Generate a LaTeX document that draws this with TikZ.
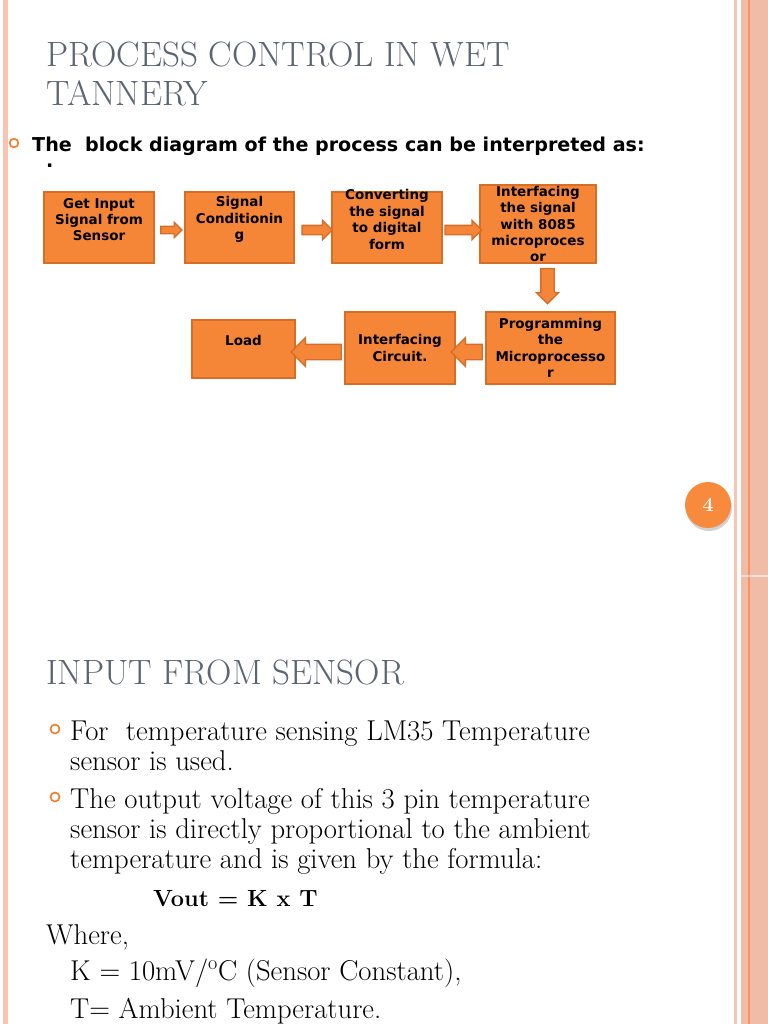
\documentclass[tikz,border=0pt]{standalone}
\usepackage{fontspec}
\newfontfamily\boxfont{DejaVu Sans}
\usepackage{tikz}
\usetikzlibrary{shapes.arrows, shadows}

\definecolor{boxfill}{RGB}{245,134,56}
\definecolor{boxline}{RGB}{214,110,40}
\definecolor{titlegray}{RGB}{91,100,114}
\definecolor{stripe}{RGB}{251,196,178}
\definecolor{band}{RGB}{240,188,168}
\definecolor{bandline}{RGB}{244,148,98}
\definecolor{bulletorange}{RGB}{240,128,48}
\definecolor{pagecircle}{RGB}{247,138,60}

\tikzset{
	box/.style={draw=boxline, fill=boxfill, line width=0.045cm, inner sep=0pt},
	boxtext/.style={font=\boxfont\bfseries\fontsize{11.5}{14}\selectfont, align=center, inner sep=0pt},
	fatarrow/.style={single arrow, draw=boxline, fill=boxfill, line width=0.04cm, inner xsep=0pt,
		single arrow head indent=0pt, sloped, allow upside down},
	slidetitle/.style={font=\fontsize{30}{36}\selectfont, text=titlegray, anchor=base west, inner sep=0pt},
	bodytext/.style={font=\fontsize{24.5}{25.5}\selectfont, anchor=base west, align=left, inner sep=0pt},
	ring/.style={circle, draw=bulletorange, line width=0.05cm, inner sep=0pt, minimum size=#1},
}

\begin{document}
\begin{tikzpicture}[x=0.03cm, y=-0.03cm]
	% Rahmen
	\useasboundingbox (0,0) rectangle (768,1024);
	\fill[white] (0,0) rectangle (768,1024);
	\fill[stripe] (3,0) rectangle (8,1024);
	\fill[stripe] (734,0) rectangle (737,1024);
	\fill[band] (741,0) rectangle (768,1024);
	\fill[bandline] (748,0) rectangle (750,1024);
	\draw[white, opacity=0.5, line width=0.06cm] (741,576) -- (768,576);
	
	% Folie 1
	\node[slidetitle] (title1) at (46,66) {PROCESS CONTROL IN WET};
	\node[slidetitle] (title2) at (46,105) {TANNERY};
	\node[ring=0.26cm] (r0) at (14,143) {};
	\node[font=\boxfont\bfseries\fontsize{16.3}{19}\selectfont, anchor=base west, inner sep=0pt] (intro) at (32,151)
		{The\ \ block diagram of the process can be interpreted as:};
	\node[font=\boxfont\bfseries\fontsize{16.3}{19}\selectfont, anchor=base west, inner sep=0pt,
		text height=1.5pt, text depth=0pt] (dot) at (46,167) {.};
	
	% Bloecke
	\node[box, minimum width=3.3cm, minimum height=2.13cm] (b1) at (99,227.5) {};
	\node[box, minimum width=3.27cm, minimum height=2.13cm] (b2) at (239.5,227.5) {};
	\node[box, minimum width=3.3cm, minimum height=2.13cm] (b3) at (387,227.5) {};
	\node[box, minimum width=3.48cm, minimum height=2.34cm] (b4) at (538,224) {};
	\node[box, minimum width=3.87cm, minimum height=2.16cm] (b5) at (550.5,348) {};
	\node[box, minimum width=3.3cm, minimum height=2.16cm] (b6) at (400,348) {};
	\node[box, minimum width=3.09cm, minimum height=1.74cm] (b7) at (243.5,349) {};
	
	\node[boxtext] (t1) at ([yshift=0.24cm]b1.center) {Get Input\\Signal from\\Sensor};
	\node[boxtext] (t2) at ([yshift=0.24cm]b2.center) {Signal\\Conditionin\\g};
	\node[boxtext] (t3) at ([yshift=0.24cm]b3.center) {Converting\\the signal\\to digital\\form};
	\node[boxtext] (t4) at (b4.center) {Interfacing\\the signal\\with 8085\\microproces\\or};
	\node[boxtext] (t5) at (b5.center) {Programming\\the\\Microprocesso\\r};
	\node[boxtext] (t6) at (b6.center) {Interfacing\\Circuit.};
	\node[boxtext] (t7) at ([yshift=0.27cm]b7.center) {Load};
	
	% Pfeile
	\path ([yshift=-0.075cm]b1.east) -- ([yshift=-0.075cm]b2.west)
		node[fatarrow, midway, minimum height=0.63cm, inner ysep=0.09cm, single arrow head extend=0.12cm] (a12) {};
	\path ([yshift=-0.075cm]b2.east) -- ([yshift=-0.075cm]b3.west)
		node[fatarrow, pos=0.55, minimum height=0.9cm, inner ysep=0.12cm, single arrow head extend=0.15cm] (a23) {};
	\path ([yshift=-0.075cm]b3.east) -- ([yshift=-0.075cm]b3.east -| b4.west)
		node[fatarrow, midway, minimum height=1.1cm, inner ysep=0.12cm, single arrow head extend=0.15cm] (a34) {};
	\path ([xshift=-0.09cm]b5.north |- b4.south) -- ([xshift=-0.09cm]b5.north)
		node[fatarrow, pos=0.4, minimum height=1.05cm, inner ysep=0.18cm, single arrow head extend=0.135cm] (a45) {};
	\path ([yshift=-0.12cm]b5.west) -- ([yshift=-0.12cm]b6.east)
		node[fatarrow, midway, minimum height=0.93cm, inner ysep=0.21cm, single arrow head extend=0.195cm] (a56) {};
	\path ([yshift=-0.12cm]b6.west) -- ([yshift=-0.12cm]b6.west -| b7.east)
		node[fatarrow, midway, minimum height=1.5cm, inner ysep=0.21cm, single arrow head extend=0.195cm] (a67) {};
	
	% Seitenzahl
	\node[circle, fill=pagecircle, minimum size=1.38cm, inner sep=0pt, text=white,
		font=\bfseries\fontsize{17}{19}\selectfont,
		drop shadow={shadow xshift=0.03cm, shadow yshift=-0.09cm, opacity=0.35}] (page) at (708,505) {4};
	
	% Folie 2
	\node[slidetitle] (title3) at (46,684) {INPUT FROM SENSOR};
	\node[ring=0.27cm] (r1) at (55,729) {};
	\node[ring=0.27cm] (r2) at (55,797) {};
	\node[bodytext] (p1) at (70,770) {For\ \ temperature sensing LM35 Temperature\\sensor is used.};
	\node[bodytext] (p2) at (70,868) {The output voltage of this 3 pin temperature\\sensor is directly proportional to the ambient\\temperature and is given by the formula:};
	\node[bodytext, font=\bfseries\fontsize{20}{24}\selectfont] (formula) at (153,906) {Vout = K x T};
	\node[bodytext] (where) at (46,944) {Where,};
	\node[bodytext] (kconst) at (70,980) {K = 10mV/\textsuperscript{o}C (Sensor Constant),};
	\node[bodytext] (tamb) at (70,1018) {T= Ambient Temperature.};
\end{tikzpicture}
\end{document}
